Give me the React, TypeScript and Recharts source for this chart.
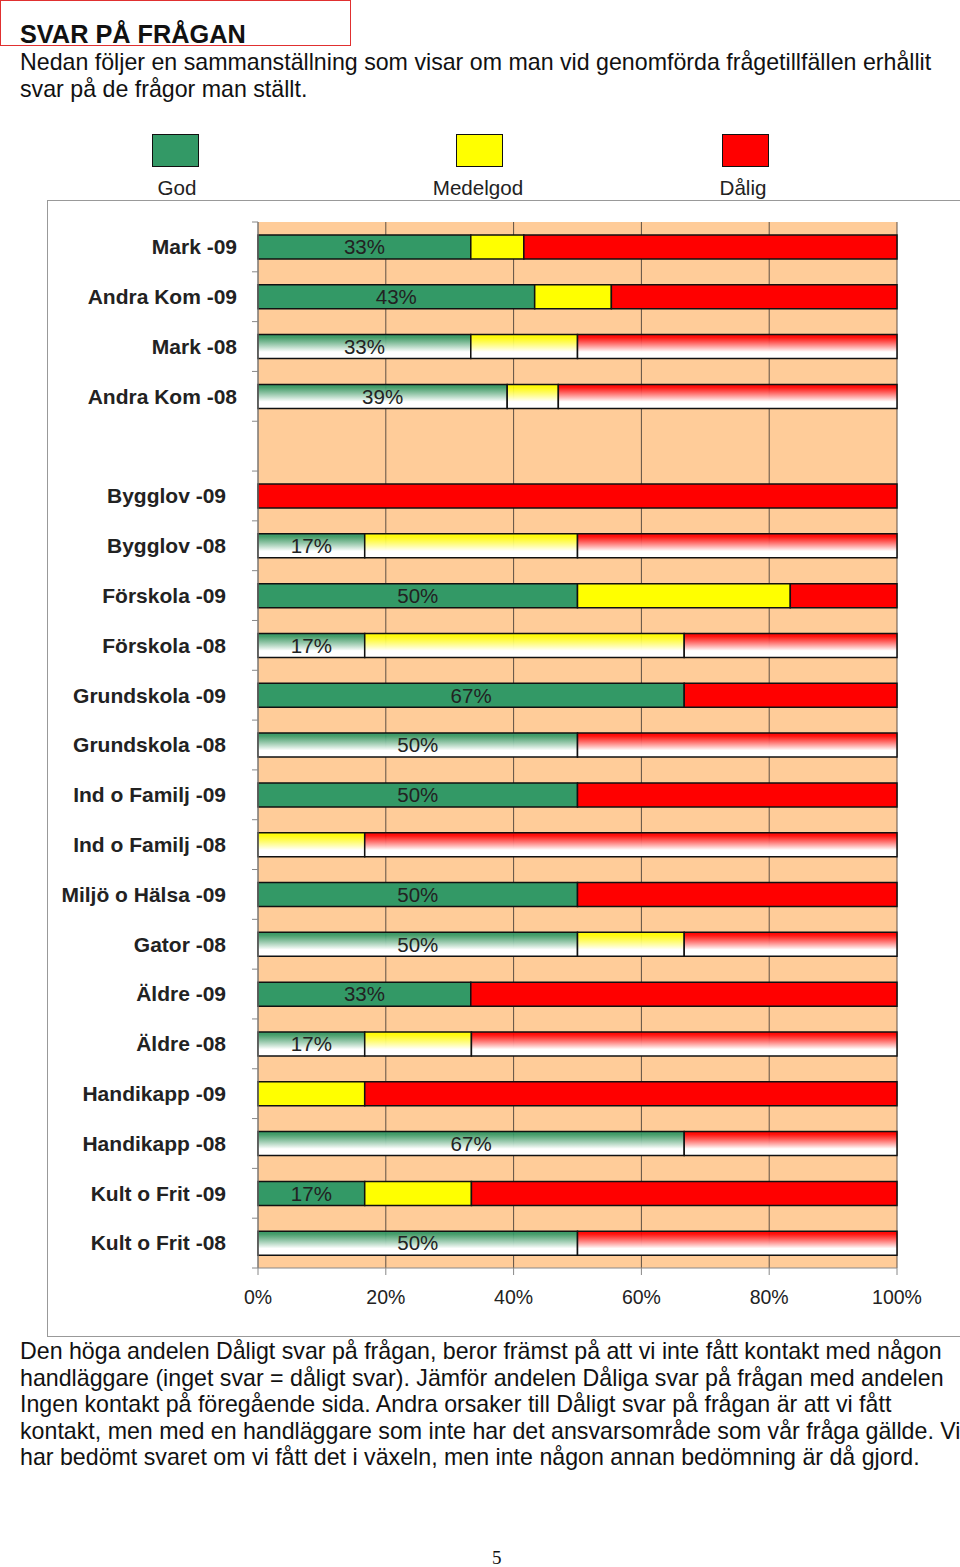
import React from 'react';
import { BarChart, Bar, XAxis, YAxis, CartesianGrid, Cell, LabelList } from 'recharts';

// rows, top to bottom (one blank row between the two groups)
const categories = [
    'Mark -09', 'Andra Kom -09', 'Mark -08', 'Andra Kom -08', ' ',
    'Bygglov -09', 'Bygglov -08', 'Förskola -09', 'Förskola -08',
    'Grundskola -09', 'Grundskola -08', 'Ind o Familj -09', 'Ind o Familj -08',
    'Miljö o Hälsa -09', 'Gator -08', 'Äldre -09', 'Äldre -08',
    'Handikapp -09', 'Handikapp -08', 'Kult o Frit -09', 'Kult o Frit -08',
];
const god = [33.3, 43.3, 33.3, 39, 0, 0, 16.7, 50, 16.7, 66.7, 50, 50, 0, 50, 50, 33.3, 16.7, 0, 66.7, 16.7, 50];
const medelgod = [8.3, 12, 16.7, 8, 0, 0, 33.3, 33.3, 50, 0, 0, 0, 16.7, 0, 16.7, 0, 16.7, 16.7, 0, 16.7, 0];
const dalig = [58.4, 44.7, 50, 53, 0, 100, 50, 16.7, 33.3, 33.3, 50, 50, 83.3, 50, 33.3, 66.7, 66.6, 83.3, 33.3, 66.6, 50];
const xTicks = [0, 20, 40, 60, 80, 100];

const legendItems = [
    { name: 'God', color: '#339966', box: 152, label: 177 },
    { name: 'Medelgod', color: '#FFFF00', box: 456, label: 478 },
    { name: 'Dålig', color: '#FF0000', box: 722, label: 743 },
];

const data = categories.map((name, i) => ({
    name,
    god: god[i],
    medelgod: medelgod[i],
    dalig: dalig[i],
}));

const FONT = '"Liberation Sans", Arial, Helvetica, sans-serif';
const PLOT_TOP = 22;
const PLOT_H = 1046;
const BAND = PLOT_H / categories.length;

const is08 = (name: string) => name.endsWith('-08');

const YTick = (props: any) => {
    const { x, y, payload, index } = props;
    const off = index < 4 ? 21 : 32;
    return (
        <g>
            <line x1={x - 6} x2={x} y1={y - BAND / 2} y2={y - BAND / 2} stroke="#888" />
            {index === categories.length - 1 && (
                <line x1={x - 6} x2={x} y1={y + BAND / 2} y2={y + BAND / 2} stroke="#888" />
            )}
            <text x={x - off} y={y} dy="0.35em" textAnchor="end" fontSize={21} fontWeight="bold" fill="#222" fontFamily={FONT}>
                {payload.value}
            </text>
        </g>
    );
};

const text: React.CSSProperties = { position: 'absolute', left: 20, whiteSpace: 'nowrap', fontFamily: FONT, color: '#111' };

export default function App() {
    const fill = (name: string, color: string, grad: string) => (is08(name) ? `url(#${grad})` : color);
    return (
        <div style={{ position: 'absolute', left: 0, top: 0, width: 960, height: 1567, background: '#fff', overflow: 'hidden' }}>
            <svg width={0} height={0} style={{ position: 'absolute' }}>
                <defs>
                    {[['gGreen', '#339966'], ['gYellow', '#FFFF00'], ['gRed', '#FF0000']].map(([id, c]) => (
                        <linearGradient key={id} id={id} x1="0" y1="0" x2="0" y2="1">
                            <stop offset="0" stopColor={c} />
                            <stop offset="0.12" stopColor={c} stopOpacity={0.9} />
                            <stop offset="0.72" stopColor="#ffffff" />
                            <stop offset="1" stopColor="#ffffff" />
                        </linearGradient>
                    ))}
                </defs>
            </svg>

            <div style={{ position: 'absolute', left: 0, top: 0, width: 351, height: 46, border: '1.5px solid #e03030', boxSizing: 'border-box' }} />
            <div style={{ ...text, top: 20, fontSize: 25.3, fontWeight: 'bold' }}>SVAR PÅ FRÅGAN</div>
            <div style={{ ...text, top: 49, fontSize: 23.2, lineHeight: '26.6px' }}>
                Nedan följer en sammanställning som visar om man vid genomförda frågetillfällen erhållit<br />
                svar på de frågor man ställt.
            </div>

            {legendItems.map((it) => (
                <React.Fragment key={it.name}>
                    <div style={{ position: 'absolute', left: it.box, top: 134, width: 47, height: 33, background: it.color, border: '1.5px solid #111', boxSizing: 'border-box' }} />
                    <div style={{ position: 'absolute', left: it.label - 60, width: 120, top: 176, textAlign: 'center', fontFamily: FONT, fontSize: 20.6, color: '#222' }}>
                        {it.name}
                    </div>
                </React.Fragment>
            ))}

            <div style={{ position: 'absolute', left: 47, top: 200, width: 930, height: 1137, border: '1.5px solid #999', boxSizing: 'border-box' }} />
            <div style={{ position: 'absolute', left: 47, top: 200 }}>
                <BarChart
                    width={913}
                    height={1137}
                    data={data}
                    layout="vertical"
                    margin={{ top: PLOT_TOP, right: 63, bottom: 0, left: 0 }}
                    barSize={24}
                >
                    <CartesianGrid horizontal={false} fill="#FFCC99" stroke="#5e5044" verticalValues={xTicks} />
                    <XAxis
                        type="number"
                        domain={[0, 100]}
                        ticks={xTicks}
                        tickFormatter={(v) => `${v}%`}
                        height={69}
                        stroke="#888"
                        tickSize={7}
                        tickMargin={15}
                        tick={{ fill: '#222', fontSize: 19.5, fontFamily: FONT }}
                    />
                    <XAxis xAxisId="top" orientation="top" type="number" domain={[0, 100]} height={0} tick={false} tickLine={false} stroke="#888" />
                    <YAxis
                        type="category"
                        dataKey="name"
                        width={211}
                        interval={0}
                        tickLine={false}
                        tickSize={0}
                        tickMargin={0}
                        stroke="#888"
                        tick={<YTick />}
                    />
                    <Bar dataKey="god" stackId="a" stroke="#111" strokeWidth={1.5} isAnimationActive={false}>
                        {data.map((d, i) => (
                            <Cell key={`g-${i}`} fill={fill(d.name, '#339966', 'gGreen')} />
                        ))}
                        <LabelList
                            dataKey="god"
                            position="center"
                            fill="#222"
                            fontSize={20.5}
                            fontFamily={FONT}
                            formatter={(v: any) => (v ? `${Math.round(Number(v))}%` : '')}
                        />
                    </Bar>
                    <Bar dataKey="medelgod" stackId="a" stroke="#111" strokeWidth={1.5} isAnimationActive={false}>
                        {data.map((d, i) => (
                            <Cell key={`m-${i}`} fill={fill(d.name, '#FFFF00', 'gYellow')} />
                        ))}
                    </Bar>
                    <Bar dataKey="dalig" stackId="a" stroke="#111" strokeWidth={1.5} isAnimationActive={false}>
                        {data.map((d, i) => (
                            <Cell key={`d-${i}`} fill={fill(d.name, '#FF0000', 'gRed')} />
                        ))}
                    </Bar>
                </BarChart>
            </div>

            <div style={{ ...text, top: 1338, fontSize: 23.2, lineHeight: '26.6px' }}>
                Den höga andelen Dåligt svar på frågan, beror främst på att vi inte fått kontakt med någon<br />
                handläggare (inget svar = dåligt svar). Jämför andelen Dåliga svar på frågan med andelen<br />
                Ingen kontakt på föregående sida. Andra orsaker till Dåligt svar på frågan är att vi fått<br />
                kontakt, men med en handläggare som inte har det ansvarsområde som vår fråga gällde. Vi<br />
                har bedömt svaret om vi fått det i växeln, men inte någon annan bedömning är då gjord.
            </div>
            <div style={{ position: 'absolute', left: 492, top: 1547, fontFamily: '"Liberation Serif", "Times New Roman", serif', fontSize: 19, color: '#111' }}>5</div>
        </div>
    );
}
